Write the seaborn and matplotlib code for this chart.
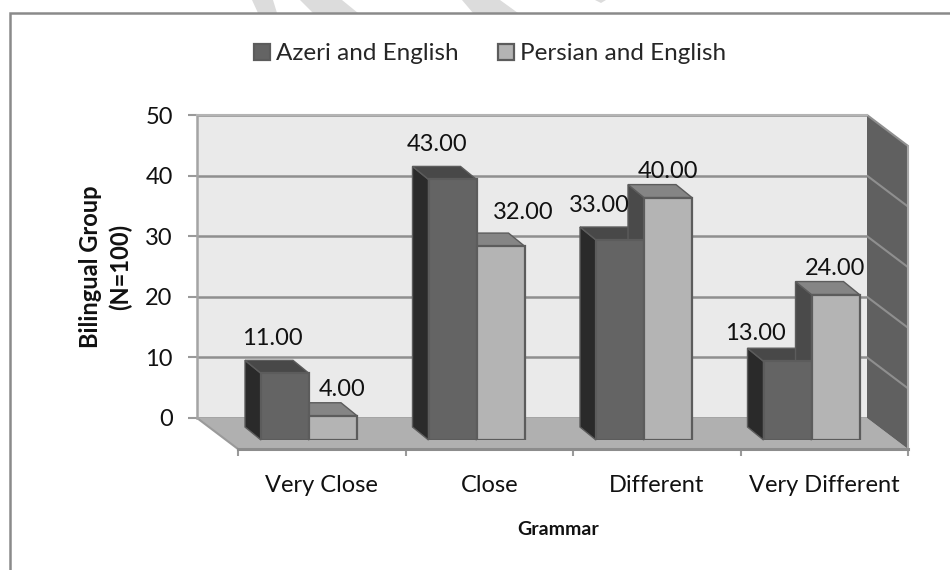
import numpy as np
import pandas as pd
import matplotlib
matplotlib.use("Agg")
import matplotlib.pyplot as plt
from matplotlib.patches import Polygon
import seaborn as sns

# values
categories = ["Very Close", "Close", "Different", "Very Different"]
azeri = [11, 43, 33, 13]
persian = [4, 32, 40, 24]
series_names = ["Azeri and English", "Persian and English"]
y_ticks = [0, 10, 20, 30, 40, 50]

# label nudges in points, relative to top centre of the front face
azeri_nudge = [(-9, 25), (-11, 25), (-15, 24.5), (-23, 20)]
persian_nudge = [(6.5, 19), (16.5, 24.5), (0, 19), (0, 19)]

W, H = 950, 570
UNIT = 303 / 50          # pixels per value unit
CAT_W = 167.5            # pixels per category
DEPTH_BAR = (16, 13)     # depth of a bar in pixels
DEPTH_BOX = (41, 31)     # depth of the floor in pixels
WALL = (197, 115, 867, 418)

dark, light = "#646464", "#b4b4b4"
side_cols = ["#2a2a2a", "#4a4a4a"]
top_cols = ["#484848", "#858585"]
edge = "#5c5c5c"
grid_col = "#8f8f8f"

sns.set_theme(style="white")
plt.rcParams["font.family"] = ["Lato", "DejaVu Sans"]
FS = 17


def px_rect(x0, y0, x1, y1):
    # pixel box (y going down) to figure fractions
    return [x0 / W, 1 - y1 / H, (x1 - x0) / W, (y1 - y0) / H]


fig = plt.figure(figsize=(W / 100, H / 100), dpi=100, facecolor="white")

# background layer in pixels: watermark, frame, floor, right wall
bg = fig.add_axes([0, 0, 1, 1])
bg.set_xlim(0, W)
bg.set_ylim(H, 0)
bg.set_axis_off()

for pts in ([(252, 0), (273, 0), (277, 13), (258, 13)],
            [(300, 0), (342, 0), (358, 13), (313, 13)],
            [(462, 0), (500, 0), (518, 13), (473, 13)],
            [(595, 0), (606, 0), (601, 3)]):
    bg.add_patch(Polygon(pts, closed=True, fc="#dcdcdc", ec="none"))
bg.plot([10, 10, W], [H, 13, 13], color="#8a8a8a", lw=1.8, solid_joinstyle="miter")

x0, y0, x1, y1 = WALL
dx, dy = DEPTH_BOX
bg.add_patch(Polygon([(x0, y1), (x1, y1), (x1 + dx, y1 + dy), (x0 + dx, y1 + dy)],
                     closed=True, fc="#b0b0b0", ec="none"))
bg.plot([x0, x0 + dx], [y1, y1 + dy], color="#9a9a9a", lw=1.5)
bg.add_patch(Polygon([(x1, y0), (x1 + dx, y0 + dy), (x1 + dx, y1 + dy), (x1, y1)],
                     closed=True, fc="#606060", ec="none"))
for v in y_ticks[1:]:
    yy = y1 - v * UNIT
    bg.plot([x1, x1 + dx], [yy, yy + dy], color=grid_col, lw=1.5)
bg.plot([x1 + dx, x1 + dx], [y0 + dy, y1 + dy], color="#a8a8a8", lw=1.5)

# back wall carries the value axis
ax_wall = fig.add_axes(px_rect(*WALL), facecolor="#eaeaea")
ax_wall.set_xlim(0, 1)
ax_wall.set_ylim(0, 50)
ax_wall.set_xticks([])
ax_wall.set_yticks(y_ticks)
ax_wall.tick_params(axis="y", left=True, length=6.5, width=1.5, color="#9a9a9a",
                    labelsize=FS, labelcolor="#111111", pad=11)
ax_wall.grid(axis="y", color=grid_col, lw=1.8)
ax_wall.set_axisbelow(True)
for s in ["right", "bottom"]:
    ax_wall.spines[s].set_visible(False)
ax_wall.spines["left"].set_color("#a4a4a4")
ax_wall.spines["left"].set_linewidth(1.8)
ax_wall.spines["top"].set_color("#b4b4b4")
ax_wall.spines["top"].set_linewidth(1.5)
ax_wall.set_ylabel("Bilingual Group\n(N=100)", fontsize=17, fontweight="bold",
                   color="#111111", linespacing=1.35)
ax_wall.yaxis.set_label_coords(-0.097, 0.5)

# floor front edge carries the category axis
ax_floor = fig.add_axes(px_rect(238, 440, 908, 449), facecolor="none")
ax_floor.set_xlim(-0.5, 3.5)
ax_floor.set_ylim(0, 1)
ax_floor.set_yticks([])
ax_floor.set_xticks(range(len(categories)))
ax_floor.set_xticklabels(categories)
ax_floor.set_xticks(np.arange(-0.5, len(categories)), minor=True)
ax_floor.tick_params(axis="x", which="major", bottom=False, labelsize=FS,
                     labelcolor="#111111", pad=13)
ax_floor.tick_params(axis="x", which="minor", bottom=True, length=5, width=1.5, color="#9a9a9a")
for s in ["left", "right", "top"]:
    ax_floor.spines[s].set_visible(False)
ax_floor.spines["bottom"].set_color("#8c8c8c")
ax_floor.spines["bottom"].set_linewidth(2.2)
ax_floor.set_xlabel("Grammar", fontsize=14, fontweight="bold", color="#111111", labelpad=18, x=0.478)

# bars sit in a plane between wall and front edge
df = pd.DataFrame({
    "category": categories * 2,
    "value": azeri + persian,
    "pair": [series_names[0]] * len(azeri) + [series_names[1]] * len(persian),
})
bar_left = 309 - CAT_W / 2
ax = fig.add_axes(px_rect(bar_left, 440 - 50 * UNIT, bar_left + 4 * CAT_W, 440), facecolor="none")
sns.barplot(data=df, x="category", y="value", hue="pair", order=categories,
            hue_order=series_names, palette=[dark, light], width=96 / CAT_W, gap=0,
            saturation=1, edgecolor=edge, linewidth=1.6, ax=ax, zorder=3)
ax.set_xlim(-0.5, 3.5)
ax.set_ylim(0, 50)

ddx = -DEPTH_BAR[0] / CAT_W
ddy = DEPTH_BAR[1] / UNIT
nudges = [azeri_nudge, persian_nudge]
for k, cont in enumerate(ax.containers):
    for n, bar in enumerate(cont):
        bx, bw, bh = bar.get_x(), bar.get_width(), bar.get_height()
        ax.add_patch(Polygon([(bx, 0), (bx, bh), (bx + ddx, bh + ddy), (bx + ddx, ddy)],
                             closed=True, fc=side_cols[k], ec=edge, lw=1, zorder=2, clip_on=False))
        ax.add_patch(Polygon([(bx, bh), (bx + bw, bh), (bx + bw + ddx, bh + ddy), (bx + ddx, bh + ddy)],
                             closed=True, fc=top_cols[k], ec=edge, lw=1, zorder=2, clip_on=False))
        ax.annotate("%.2f" % bh, (bx + bw / 2, bh), xytext=nudges[k][n], textcoords="offset points",
                    ha="center", va="center", fontsize=FS, color="#111111", zorder=5)

sns.move_legend(ax, "center", bbox_to_anchor=(490 / W, 1 - 54 / H),
                bbox_transform=fig.transFigure, ncol=2, frameon=False, title=None,
                fontsize=17.5, handlelength=0.67, handleheight=0.67, handletextpad=0.25,
                columnspacing=1.6, borderpad=0)
ax.set_axis_off()

fig.savefig("out.png", dpi=100)
